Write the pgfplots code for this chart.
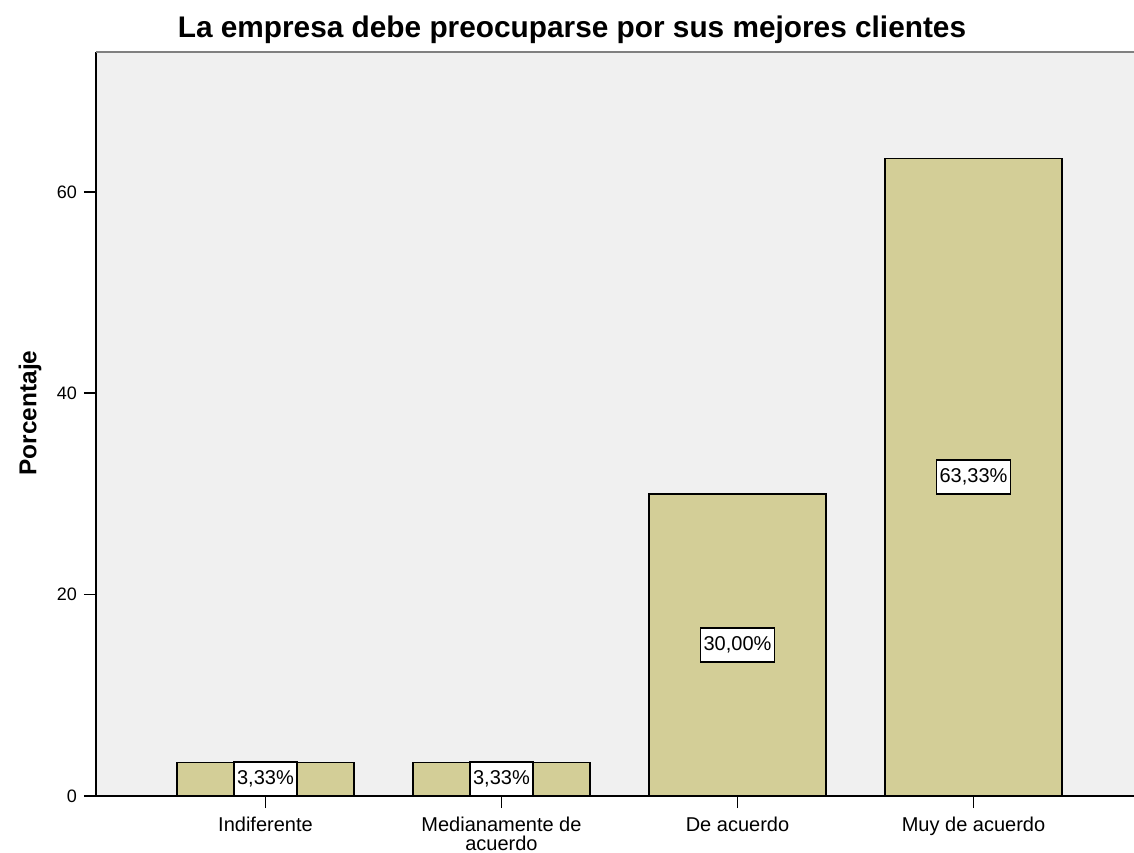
\documentclass[border=0pt]{standalone}
\usepackage{pgfplots}
\pgfplotsset{compat=1.18}
\usepackage{fontspec}
\setmainfont{Liberation Sans}
\definecolor{barfill}{RGB}{211,206,151}
\definecolor{bg}{RGB}{240,240,240}
\definecolor{topline}{RGB}{128,128,128}
\begin{document}
\begin{tikzpicture}
\useasboundingbox (0,0) rectangle (567pt,426pt);
\fill[white] (0,0) rectangle (567pt,426pt);
\node[font=\bfseries\fontsize{14.9}{17}\selectfont, anchor=center] at (286pt,411pt) {La empresa debe preocuparse por sus mejores clientes};
\node[font=\bfseries\fontsize{12.2}{14}\selectfont, rotate=90, anchor=center] at (15pt,219.5pt) {Porcentaje};
\begin{axis}[
  at={(48pt,28pt)}, anchor=south west,
  scale only axis, width=519pt, height=372pt,
  xmin=-0.718, xmax=3.68, ymin=0, ymax=73.9,
  axis background/.style={fill=bg},
  axis x line*=bottom, axis y line*=left,
  axis line style={black, line width=0.9pt, -},
  xtick={0,1,2,3},
  xticklabels={Indiferente, {Medianamente de\\[-1.5pt]acuerdo}, De acuerdo, Muy de acuerdo},
  xticklabel style={align=center, font=\fontsize{10}{11}\selectfont, yshift=-1pt},
  ytick={0,20,40,60},
  yticklabel style={font=\fontsize{9}{10}\selectfont},
  /pgf/number format/assume math mode=true,
  tick align=outside, major tick length=6pt,
  tick style={black, line width=0.8pt},
  clip=false,
]
\addplot[ybar, bar width=88.5pt, bar shift=0pt, fill=barfill, draw=black, line width=0.9pt]
  coordinates {(0,3.33) (1,3.33) (2,30.00) (3,63.33)};
\addplot[draw=none, mark=none, nodes near coords, point meta=explicit symbolic,
  nodes near coords align=center,
  every node near coord/.append style={anchor=center, fill=white, draw=black, line width=0.8pt,
    font=\fontsize{10}{11}\selectfont, inner xsep=1.5pt, inner ysep=0pt, minimum height=17pt}]
  table[meta=label] {
  x y label
  0 1.665 3,33\%
  1 1.665 3,33\%
  2 15.0 30,00\%
  3 31.665 63,33\%
  };
\draw[topline, line width=0.8pt] (rel axis cs:0,1) -- (rel axis cs:1,1);
\end{axis}
\end{tikzpicture}
\end{document}
